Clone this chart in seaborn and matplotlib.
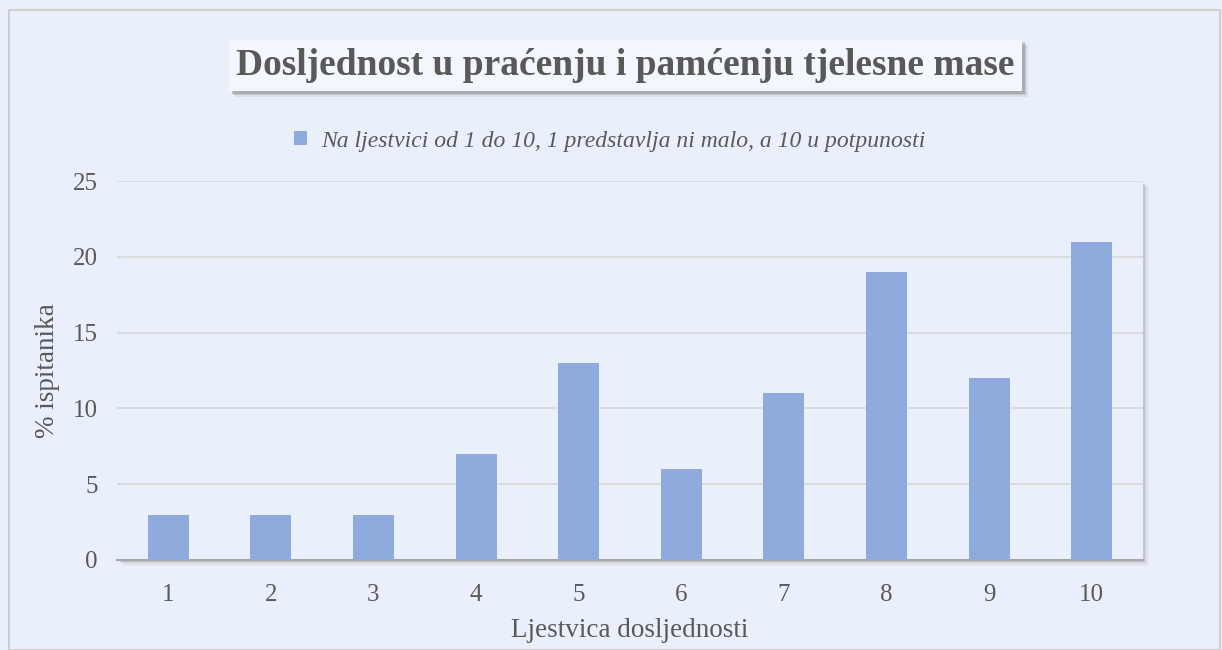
import numpy as np
import pandas as pd
import matplotlib
matplotlib.use('Agg')
import matplotlib.pyplot as plt
import seaborn as sns
from matplotlib.patches import Rectangle

# data
categories = ['1', '2', '3', '4', '5', '6', '7', '8', '9', '10']
percent = [3, 3, 3, 7, 13, 6, 11, 19, 12, 21]
series_label = 'Na ljestvici od 1 do 10, 1 predstavlja ni malo, a 10 u potpunosti'
title = 'Dosljednost u praćenju i pamćenju tjelesne mase'
x_label = 'Ljestvica dosljednosti'
y_label = '% ispitanika'

bg = '#EAF0FB'
bar_color = '#8FAADC'
text_color = '#595959'

sns.set_theme(style='white')
plt.rcParams['font.family'] = ['Liberation Serif', 'DejaVu Serif']

df = pd.DataFrame({'cat': categories, 'val': percent})

W, H = 1222, 650
fig = plt.figure(figsize=(W / 100, H / 100), dpi=100)
fig.patch.set_facecolor(bg)

# outer frame
fig.patches.append(Rectangle((9 / W, 0), 1211 / W, 1 - 10 / H, transform=fig.transFigure,
                             fill=False, edgecolor='#CFCFCF', lw=1.5, zorder=0))

ax_l, ax_b = 117 / W, 1 - 560 / H
ax_w, ax_h = (1143 - 117) / W, (560 - 181) / H

# soft drop shadow behind plot area
for i, a in enumerate([0.04, 0.07, 0.10, 0.14]):
    off = (4 - i) * 1.6
    fig.patches.append(Rectangle((ax_l + off / W, ax_b - off / H), ax_w, ax_h,
                                 transform=fig.transFigure, facecolor='#6F6F6F', alpha=a,
                                 edgecolor='none', zorder=0))

ax = fig.add_axes([ax_l, ax_b, ax_w, ax_h])
ax.set_facecolor(bg)
ax.set_zorder(1)

sns.barplot(data=df, x='cat', y='val', color=bar_color, width=0.4, saturation=1,
            linewidth=0, ax=ax, label=series_label, zorder=3)

ax.set_ylim(0, 25)
ax.set_yticks(range(0, 26, 5))
ax.grid(axis='y', color='#D9D9D9', lw=1.3, zorder=0)
ax.set_axisbelow(True)
for s in ['top', 'right', 'left']:
    ax.spines[s].set_visible(False)
ax.spines['bottom'].set_color('#A6A6A6')
ax.spines['bottom'].set_linewidth(1.5)
ax.tick_params(axis='both', length=0, labelsize=18, labelcolor=text_color)
ax.tick_params(axis='x', pad=17)
ax.tick_params(axis='y', pad=14)
ax.set_xlabel(x_label, fontsize=19.5, color=text_color, labelpad=9)
ax.set_ylabel(y_label, fontsize=19.5, color=text_color, labelpad=9)

leg = ax.legend(loc='center', bbox_to_anchor=(0.48, 1 + 40 / 379), frameon=False,
                prop={'style': 'italic', 'size': 17}, handlelength=0.55, handleheight=0.55,
                handletextpad=0.6)
for t in leg.get_texts():
    t.set_color(text_color)

# title box with shadow
tb_l, tb_r, tb_t, tb_b = 229, 1022, 40, 91
for i, a in enumerate([0.15, 0.25, 0.35]):
    off = (3 - i) * 1.5 + 1
    fig.patches.append(Rectangle(((tb_l + off) / W, 1 - (tb_b + off) / H), (tb_r - tb_l) / W,
                                 (tb_b - tb_t) / H, transform=fig.transFigure,
                                 facecolor='#7F7F7F', alpha=a, edgecolor='none', zorder=2))
fig.patches.append(Rectangle((tb_l / W, 1 - tb_b / H), (tb_r - tb_l) / W,
                             (tb_b - tb_t) / H, transform=fig.transFigure,
                             facecolor='#F3F6FC', edgecolor='none', zorder=3))
fig.text((tb_l + tb_r) / 2 / W, 1 - (tb_t + tb_b) / 2 / H, title, ha='center', va='center',
         fontsize=27, fontweight='bold', color=text_color, zorder=4)

fig.savefig('out.png', dpi=100, facecolor=bg)
